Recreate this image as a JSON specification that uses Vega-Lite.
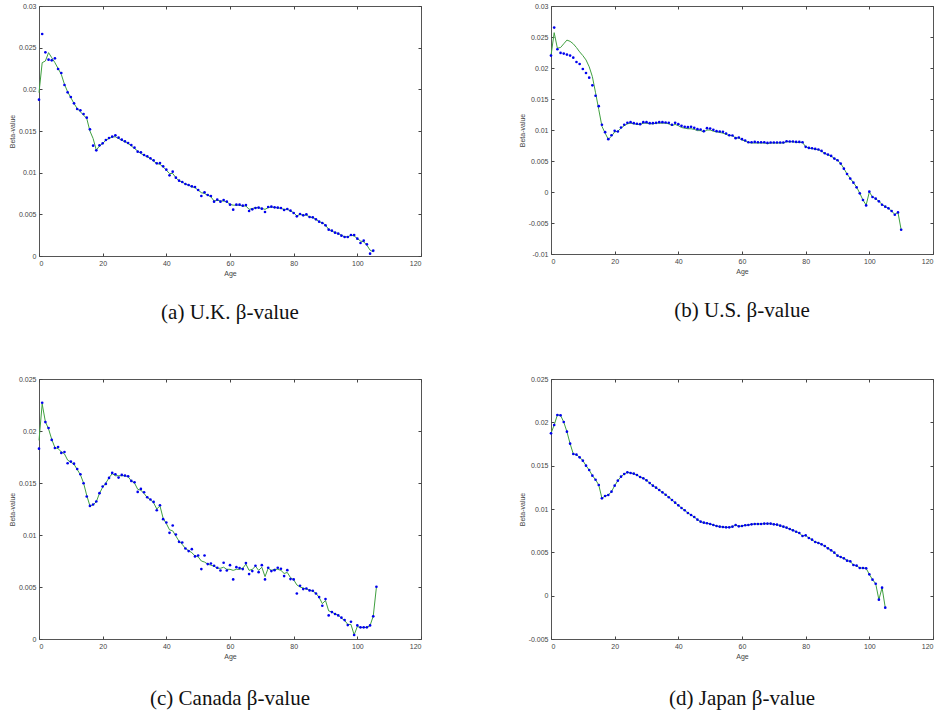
{
  "$schema": "https://vega.github.io/schema/vega-lite/v6.json",
  "padding": {"left": 7, "top": 1, "right": 0, "bottom": 0},
  "background": "white",
  "datasets": {
    "uk": [
      {"age":0,"obs":0.01876,"fit":0.0196},{"age":1,"obs":0.02664,"fit":0.0232},{"age":2,"obs":0.02444,"fit":0.0234},{"age":3,"obs":0.02356,"fit":0.0244},{"age":4,"obs":0.02348,"fit":0.0238},{"age":5,"obs":0.02372,"fit":0.0232},{"age":6,"obs":0.02244,"fit":0.0225},{"age":7,"obs":0.02196,"fit":0.0218},{"age":8,"obs":0.02052,"fit":0.0206},{"age":9,"obs":0.01964,"fit":0.0197},
      {"age":10,"obs":0.01908,"fit":0.019},{"age":11,"obs":0.01832,"fit":0.0183},{"age":12,"obs":0.01764,"fit":0.0177},{"age":13,"obs":0.01748,"fit":0.0173},{"age":14,"obs":0.01704,"fit":0.0169},{"age":15,"obs":0.0166,"fit":0.0165},{"age":16,"obs":0.0152,"fit":0.015},{"age":17,"obs":0.01324,"fit":0.0141},{"age":18,"obs":0.01268,"fit":0.0127},{"age":19,"obs":0.01328,"fit":0.0132},
      {"age":20,"obs":0.01352,"fit":0.0135},{"age":21,"obs":0.01392,"fit":0.0139},{"age":22,"obs":0.01416,"fit":0.0141},{"age":23,"obs":0.01432,"fit":0.0143},{"age":24,"obs":0.01448,"fit":0.0143},{"age":25,"obs":0.0142,"fit":0.0141},{"age":26,"obs":0.01396,"fit":0.0139},{"age":27,"obs":0.01376,"fit":0.0137},{"age":28,"obs":0.01356,"fit":0.0135},{"age":29,"obs":0.01332,"fit":0.0132},
      {"age":30,"obs":0.013,"fit":0.0129},{"age":31,"obs":0.01252,"fit":0.0126},{"age":32,"obs":0.01244,"fit":0.0123},{"age":33,"obs":0.01212,"fit":0.0121},{"age":34,"obs":0.01196,"fit":0.0119},{"age":35,"obs":0.01172,"fit":0.0117},{"age":36,"obs":0.01148,"fit":0.0114},{"age":37,"obs":0.01112,"fit":0.0111},{"age":38,"obs":0.01116,"fit":0.011},{"age":39,"obs":0.01076,"fit":0.0107},
      {"age":40,"obs":0.01036,"fit":0.0103},{"age":41,"obs":0.00968,"fit":0.0099},{"age":42,"obs":0.01012,"fit":0.0099},{"age":43,"obs":0.0094,"fit":0.0094},{"age":44,"obs":0.00904,"fit":0.009},{"age":45,"obs":0.00888,"fit":0.0089},{"age":46,"obs":0.00864,"fit":0.0086},{"age":47,"obs":0.00852,"fit":0.0085},{"age":48,"obs":0.00836,"fit":0.0083},{"age":49,"obs":0.00828,"fit":0.0082},
      {"age":50,"obs":0.00792,"fit":0.0079},{"age":51,"obs":0.0072,"fit":0.0076},{"age":52,"obs":0.00764,"fit":0.0075},{"age":53,"obs":0.00732,"fit":0.0073},{"age":54,"obs":0.0072,"fit":0.0071},{"age":55,"obs":0.00652,"fit":0.0066},{"age":56,"obs":0.00676,"fit":0.0067},{"age":57,"obs":0.00652,"fit":0.0066},{"age":58,"obs":0.00672,"fit":0.0066},{"age":59,"obs":0.00652,"fit":0.0065},
      {"age":60,"obs":0.00616,"fit":0.0062},{"age":61,"obs":0.00556,"fit":0.0061},{"age":62,"obs":0.00616,"fit":0.0061},{"age":63,"obs":0.00616,"fit":0.0061},{"age":64,"obs":0.00604,"fit":0.006},{"age":65,"obs":0.00612,"fit":0.006},{"age":66,"obs":0.0054,"fit":0.0056},{"age":67,"obs":0.0056,"fit":0.0057},{"age":68,"obs":0.00576,"fit":0.0058},{"age":69,"obs":0.0058,"fit":0.0058},
      {"age":70,"obs":0.00568,"fit":0.0057},{"age":71,"obs":0.00528,"fit":0.0056},{"age":72,"obs":0.00588,"fit":0.0058},{"age":73,"obs":0.00592,"fit":0.0059},{"age":74,"obs":0.00584,"fit":0.0058},{"age":75,"obs":0.0058,"fit":0.0058},{"age":76,"obs":0.00576,"fit":0.0057},{"age":77,"obs":0.00552,"fit":0.0056},{"age":78,"obs":0.00564,"fit":0.0056},{"age":79,"obs":0.00544,"fit":0.0054},
      {"age":80,"obs":0.00516,"fit":0.0052},{"age":81,"obs":0.00476,"fit":0.0048},{"age":82,"obs":0.00504,"fit":0.005},{"age":83,"obs":0.00488,"fit":0.0049},{"age":84,"obs":0.005,"fit":0.0049},{"age":85,"obs":0.00468,"fit":0.0047},{"age":86,"obs":0.00464,"fit":0.0046},{"age":87,"obs":0.0044,"fit":0.0044},{"age":88,"obs":0.00412,"fit":0.0041},{"age":89,"obs":0.00396,"fit":0.004},
      {"age":90,"obs":0.00368,"fit":0.0037},{"age":91,"obs":0.00316,"fit":0.0032},{"age":92,"obs":0.00304,"fit":0.003},{"age":93,"obs":0.0028,"fit":0.0028},{"age":94,"obs":0.00268,"fit":0.0027},{"age":95,"obs":0.00244,"fit":0.0025},{"age":96,"obs":0.00228,"fit":0.0023},{"age":97,"obs":0.00228,"fit":0.0023},{"age":98,"obs":0.00252,"fit":0.0025},{"age":99,"obs":0.00252,"fit":0.0024},
      {"age":100,"obs":0.00208,"fit":0.0021},{"age":101,"obs":0.00156,"fit":0.0018},{"age":102,"obs":0.00184,"fit":0.0017},{"age":103,"obs":0.0014,"fit":0.0013},{"age":104,"obs":0.00028,"fit":0.0007},{"age":105,"obs":0.00064,"fit":0.0005}
    ],
    "us": [
      {"age":0,"obs":0.022,"fit":0.022},{"age":1,"obs":0.02652,"fit":0.0257},{"age":2,"obs":0.02302,"fit":0.0232},{"age":3,"obs":0.02243,"fit":0.0233},{"age":4,"obs":0.02232,"fit":0.0239},{"age":5,"obs":0.02216,"fit":0.0245},{"age":6,"obs":0.022,"fit":0.0243},{"age":7,"obs":0.02167,"fit":0.0239},{"age":8,"obs":0.02097,"fit":0.0233},{"age":9,"obs":0.02065,"fit":0.0226},
      {"age":10,"obs":0.01984,"fit":0.022},{"age":11,"obs":0.01919,"fit":0.0213},{"age":12,"obs":0.01844,"fit":0.0202},{"age":13,"obs":0.0172,"fit":0.0186},{"age":14,"obs":0.01553,"fit":0.016},{"age":15,"obs":0.01385,"fit":0.0133},{"age":16,"obs":0.01084,"fit":0.0106},{"age":17,"obs":0.00965,"fit":0.0095},{"age":18,"obs":0.00852,"fit":0.0085},{"age":19,"obs":0.00916,"fit":0.009},
      {"age":20,"obs":0.00986,"fit":0.0097},{"age":21,"obs":0.00976,"fit":0.0098},{"age":22,"obs":0.0104,"fit":0.0103},{"age":23,"obs":0.01084,"fit":0.0107},{"age":24,"obs":0.01116,"fit":0.011},{"age":25,"obs":0.01127,"fit":0.0111},{"age":26,"obs":0.0111,"fit":0.011},{"age":27,"obs":0.011,"fit":0.0109},{"age":28,"obs":0.01094,"fit":0.0109},{"age":29,"obs":0.01127,"fit":0.0111},
      {"age":30,"obs":0.01127,"fit":0.0111},{"age":31,"obs":0.0111,"fit":0.011},{"age":32,"obs":0.0111,"fit":0.011},{"age":33,"obs":0.01116,"fit":0.0111},{"age":34,"obs":0.01127,"fit":0.0111},{"age":35,"obs":0.01127,"fit":0.0111},{"age":36,"obs":0.01121,"fit":0.0111},{"age":37,"obs":0.01116,"fit":0.011},{"age":38,"obs":0.01084,"fit":0.0107},{"age":39,"obs":0.01116,"fit":0.0109},
      {"age":40,"obs":0.01094,"fit":0.0107},{"age":41,"obs":0.01067,"fit":0.0104},{"age":42,"obs":0.01051,"fit":0.0103},{"age":43,"obs":0.01046,"fit":0.0102},{"age":44,"obs":0.01051,"fit":0.0102},{"age":45,"obs":0.01035,"fit":0.0101},{"age":46,"obs":0.01013,"fit":0.0099},{"age":47,"obs":0.01008,"fit":0.0099},{"age":48,"obs":0.00981,"fit":0.0097},{"age":49,"obs":0.0103,"fit":0.01},
      {"age":50,"obs":0.01024,"fit":0.01},{"age":51,"obs":0.01003,"fit":0.0098},{"age":52,"obs":0.00981,"fit":0.0097},{"age":53,"obs":0.00976,"fit":0.0096},{"age":54,"obs":0.0097,"fit":0.0095},{"age":55,"obs":0.00943,"fit":0.0093},{"age":56,"obs":0.00916,"fit":0.0091},{"age":57,"obs":0.00911,"fit":0.0091},{"age":58,"obs":0.00868,"fit":0.0087},{"age":59,"obs":0.00879,"fit":0.0087},
      {"age":60,"obs":0.00852,"fit":0.0084},{"age":61,"obs":0.0083,"fit":0.0082},{"age":62,"obs":0.00803,"fit":0.008},{"age":63,"obs":0.00803,"fit":0.0079},{"age":64,"obs":0.00808,"fit":0.0079},{"age":65,"obs":0.00803,"fit":0.0079},{"age":66,"obs":0.00803,"fit":0.0079},{"age":67,"obs":0.00803,"fit":0.0079},{"age":68,"obs":0.00792,"fit":0.0078},{"age":69,"obs":0.00798,"fit":0.0079},
      {"age":70,"obs":0.00798,"fit":0.0079},{"age":71,"obs":0.00798,"fit":0.0079},{"age":72,"obs":0.00798,"fit":0.0079},{"age":73,"obs":0.00798,"fit":0.0079},{"age":74,"obs":0.00819,"fit":0.0081},{"age":75,"obs":0.00814,"fit":0.0081},{"age":76,"obs":0.00814,"fit":0.0081},{"age":77,"obs":0.00808,"fit":0.008},{"age":78,"obs":0.00808,"fit":0.008},{"age":79,"obs":0.00803,"fit":0.008},
      {"age":80,"obs":0.00728,"fit":0.0073},{"age":81,"obs":0.00711,"fit":0.0071},{"age":82,"obs":0.00706,"fit":0.007},{"age":83,"obs":0.00695,"fit":0.0069},{"age":84,"obs":0.00685,"fit":0.0068},{"age":85,"obs":0.00663,"fit":0.0066},{"age":86,"obs":0.00625,"fit":0.0062},{"age":87,"obs":0.00604,"fit":0.006},{"age":88,"obs":0.00582,"fit":0.0058},{"age":89,"obs":0.00539,"fit":0.0054},
      {"age":90,"obs":0.00512,"fit":0.0051},{"age":91,"obs":0.00458,"fit":0.0046},{"age":92,"obs":0.00377,"fit":0.0038},{"age":93,"obs":0.00291,"fit":0.0029},{"age":94,"obs":0.00216,"fit":0.0022},{"age":95,"obs":0.00151,"fit":0.0015},{"age":96,"obs":0.00075,"fit":0.0008},{"age":97,"obs":-0.00022,"fit":-0.0002},{"age":98,"obs":-0.00129,"fit":-0.0013},{"age":99,"obs":-0.00216,"fit":-0.0021},
      {"age":100,"obs":0.00005,"fit":0.0},{"age":101,"obs":-0.00081,"fit":-0.0008},{"age":102,"obs":-0.00108,"fit":-0.0011},{"age":103,"obs":-0.00151,"fit":-0.0015},{"age":104,"obs":-0.00205,"fit":-0.002},{"age":105,"obs":-0.00237,"fit":-0.0024},{"age":106,"obs":-0.00264,"fit":-0.0026},{"age":107,"obs":-0.00307,"fit":-0.0031},{"age":108,"obs":-0.00367,"fit":-0.0036},{"age":109,"obs":-0.00329,"fit":-0.0033},
      {"age":110,"obs":-0.00609,"fit":-0.0061}
    ],
    "ca": [
      {"age":0,"obs":0.0183,"fit":0.0191},{"age":1,"obs":0.02272,"fit":0.0226},{"age":2,"obs":0.02086,"fit":0.0209},{"age":3,"obs":0.02029,"fit":0.0202},{"age":4,"obs":0.01914,"fit":0.0192},{"age":5,"obs":0.01837,"fit":0.0184},{"age":6,"obs":0.01846,"fit":0.0183},{"age":7,"obs":0.01789,"fit":0.018},{"age":8,"obs":0.01798,"fit":0.0178},{"age":9,"obs":0.0169,"fit":0.0172},
      {"age":10,"obs":0.01706,"fit":0.017},{"age":11,"obs":0.01686,"fit":0.0168},{"age":12,"obs":0.01635,"fit":0.0163},{"age":13,"obs":0.01584,"fit":0.0158},{"age":14,"obs":0.01498,"fit":0.015},{"age":15,"obs":0.0137,"fit":0.0138},{"age":16,"obs":0.0128,"fit":0.0128},{"age":17,"obs":0.01293,"fit":0.0129},{"age":18,"obs":0.01322,"fit":0.0132},{"age":19,"obs":0.01402,"fit":0.014},
      {"age":20,"obs":0.01466,"fit":0.0146},{"age":21,"obs":0.01491,"fit":0.015},{"age":22,"obs":0.01549,"fit":0.0155},{"age":23,"obs":0.01597,"fit":0.0159},{"age":24,"obs":0.01584,"fit":0.0157},{"age":25,"obs":0.01552,"fit":0.0157},{"age":26,"obs":0.01578,"fit":0.0157},{"age":27,"obs":0.01571,"fit":0.0157},{"age":28,"obs":0.01565,"fit":0.0156},{"age":29,"obs":0.0152,"fit":0.0152},
      {"age":30,"obs":0.01507,"fit":0.015},{"age":31,"obs":0.01414,"fit":0.0144},{"age":32,"obs":0.01443,"fit":0.0143},{"age":33,"obs":0.01411,"fit":0.014},{"age":34,"obs":0.01363,"fit":0.0136},{"age":35,"obs":0.01341,"fit":0.0134},{"age":36,"obs":0.01318,"fit":0.0131},{"age":37,"obs":0.01238,"fit":0.0125},{"age":38,"obs":0.01286,"fit":0.0128},{"age":39,"obs":0.01152,"fit":0.0116},
      {"age":40,"obs":0.0112,"fit":0.0111},{"age":41,"obs":0.01021,"fit":0.0105},{"age":42,"obs":0.01091,"fit":0.0104},{"age":43,"obs":0.01005,"fit":0.0099},{"age":44,"obs":0.00934,"fit":0.0094},{"age":45,"obs":0.00928,"fit":0.0091},{"age":46,"obs":0.0087,"fit":0.0087},{"age":47,"obs":0.00845,"fit":0.0085},{"age":48,"obs":0.00864,"fit":0.0083},{"age":49,"obs":0.00794,"fit":0.008},
      {"age":50,"obs":0.00803,"fit":0.0079},{"age":51,"obs":0.00672,"fit":0.0075},{"age":52,"obs":0.00803,"fit":0.0074},{"age":53,"obs":0.0072,"fit":0.0072},{"age":54,"obs":0.00726,"fit":0.0071},{"age":55,"obs":0.00704,"fit":0.007},{"age":56,"obs":0.00685,"fit":0.0068},{"age":57,"obs":0.00659,"fit":0.0068},{"age":58,"obs":0.00733,"fit":0.0069},{"age":59,"obs":0.00659,"fit":0.0067},
      {"age":60,"obs":0.0071,"fit":0.0067},{"age":61,"obs":0.00573,"fit":0.0066},{"age":62,"obs":0.00691,"fit":0.0067},{"age":63,"obs":0.00682,"fit":0.0067},{"age":64,"obs":0.00672,"fit":0.0068},{"age":65,"obs":0.0073,"fit":0.0072},{"age":66,"obs":0.00624,"fit":0.0066},{"age":67,"obs":0.00653,"fit":0.0067},{"age":68,"obs":0.00704,"fit":0.007},{"age":69,"obs":0.00643,"fit":0.0066},
      {"age":70,"obs":0.0071,"fit":0.0069},{"age":71,"obs":0.00573,"fit":0.006},{"age":72,"obs":0.00685,"fit":0.0068},{"age":73,"obs":0.00653,"fit":0.0066},{"age":74,"obs":0.00662,"fit":0.0067},{"age":75,"obs":0.00685,"fit":0.0067},{"age":76,"obs":0.00675,"fit":0.0066},{"age":77,"obs":0.00605,"fit":0.0063},{"age":78,"obs":0.00662,"fit":0.0064},{"age":79,"obs":0.00576,"fit":0.0059},
      {"age":80,"obs":0.00573,"fit":0.0057},{"age":81,"obs":0.00438,"fit":0.0052},{"age":82,"obs":0.00512,"fit":0.005},{"age":83,"obs":0.0048,"fit":0.0049},{"age":84,"obs":0.00486,"fit":0.0048},{"age":85,"obs":0.00467,"fit":0.0047},{"age":86,"obs":0.00464,"fit":0.0046},{"age":87,"obs":0.00438,"fit":0.0044},{"age":88,"obs":0.00403,"fit":0.004},{"age":89,"obs":0.0032,"fit":0.0034},
      {"age":90,"obs":0.00384,"fit":0.0037},{"age":91,"obs":0.00227,"fit":0.0027},{"age":92,"obs":0.00259,"fit":0.0026},{"age":93,"obs":0.0024,"fit":0.0024},{"age":94,"obs":0.00227,"fit":0.0023},{"age":95,"obs":0.00205,"fit":0.002},{"age":96,"obs":0.00182,"fit":0.0018},{"age":97,"obs":0.00134,"fit":0.0014},{"age":98,"obs":0.00166,"fit":0.0014},{"age":99,"obs":0.00038,"fit":0.0004},
      {"age":100,"obs":0.00131,"fit":0.0012},{"age":101,"obs":0.00112,"fit":0.0011},{"age":102,"obs":0.00112,"fit":0.0011},{"age":103,"obs":0.00112,"fit":0.0011},{"age":104,"obs":0.00131,"fit":0.0013},{"age":105,"obs":0.00218,"fit":0.0022},{"age":106,"obs":0.00502,"fit":0.005}
    ],
    "jp": [
      {"age":0,"obs":0.01873,"fit":0.01873},{"age":1,"obs":0.01969,"fit":0.01969},{"age":2,"obs":0.02085,"fit":0.02085},{"age":3,"obs":0.02081,"fit":0.02081},{"age":4,"obs":0.02004,"fit":0.02004},{"age":5,"obs":0.01892,"fit":0.01892},{"age":6,"obs":0.01754,"fit":0.01754},{"age":7,"obs":0.01635,"fit":0.01635},{"age":8,"obs":0.01627,"fit":0.01627},{"age":9,"obs":0.01596,"fit":0.01596},
      {"age":10,"obs":0.01558,"fit":0.01558},{"age":11,"obs":0.015,"fit":0.015},{"age":12,"obs":0.0145,"fit":0.0145},{"age":13,"obs":0.01385,"fit":0.01385},{"age":14,"obs":0.01338,"fit":0.01338},{"age":15,"obs":0.01277,"fit":0.01277},{"age":16,"obs":0.01123,"fit":0.01123},{"age":17,"obs":0.0115,"fit":0.0115},{"age":18,"obs":0.01162,"fit":0.01162},{"age":19,"obs":0.012,"fit":0.012},
      {"age":20,"obs":0.01269,"fit":0.01269},{"age":21,"obs":0.01327,"fit":0.01327},{"age":22,"obs":0.01373,"fit":0.01373},{"age":23,"obs":0.01404,"fit":0.01404},{"age":24,"obs":0.01423,"fit":0.01423},{"age":25,"obs":0.01415,"fit":0.01415},{"age":26,"obs":0.01408,"fit":0.01408},{"age":27,"obs":0.01392,"fit":0.01392},{"age":28,"obs":0.01369,"fit":0.01369},{"age":29,"obs":0.01354,"fit":0.01354},
      {"age":30,"obs":0.01331,"fit":0.01331},{"age":31,"obs":0.013,"fit":0.013},{"age":32,"obs":0.01269,"fit":0.01269},{"age":33,"obs":0.01246,"fit":0.01246},{"age":34,"obs":0.01219,"fit":0.01219},{"age":35,"obs":0.01192,"fit":0.01192},{"age":36,"obs":0.01165,"fit":0.01165},{"age":37,"obs":0.01135,"fit":0.01135},{"age":38,"obs":0.01104,"fit":0.01104},{"age":39,"obs":0.01073,"fit":0.01073},
      {"age":40,"obs":0.01042,"fit":0.01042},{"age":41,"obs":0.01012,"fit":0.01012},{"age":42,"obs":0.00985,"fit":0.00985},{"age":43,"obs":0.00954,"fit":0.00954},{"age":44,"obs":0.00931,"fit":0.00931},{"age":45,"obs":0.00908,"fit":0.00908},{"age":46,"obs":0.00877,"fit":0.00877},{"age":47,"obs":0.00854,"fit":0.00854},{"age":48,"obs":0.00842,"fit":0.00842},{"age":49,"obs":0.00835,"fit":0.00835},
      {"age":50,"obs":0.00827,"fit":0.00827},{"age":51,"obs":0.00815,"fit":0.00815},{"age":52,"obs":0.00804,"fit":0.00804},{"age":53,"obs":0.00796,"fit":0.00796},{"age":54,"obs":0.00792,"fit":0.00792},{"age":55,"obs":0.00788,"fit":0.00788},{"age":56,"obs":0.00788,"fit":0.00788},{"age":57,"obs":0.00796,"fit":0.00796},{"age":58,"obs":0.00815,"fit":0.00815},{"age":59,"obs":0.008,"fit":0.008},
      {"age":60,"obs":0.00804,"fit":0.00804},{"age":61,"obs":0.00812,"fit":0.00812},{"age":62,"obs":0.00815,"fit":0.00815},{"age":63,"obs":0.00823,"fit":0.00823},{"age":64,"obs":0.00827,"fit":0.00827},{"age":65,"obs":0.00827,"fit":0.00827},{"age":66,"obs":0.00827,"fit":0.00827},{"age":67,"obs":0.00831,"fit":0.00831},{"age":68,"obs":0.00831,"fit":0.00831},{"age":69,"obs":0.00831,"fit":0.00831},
      {"age":70,"obs":0.00823,"fit":0.00823},{"age":71,"obs":0.00819,"fit":0.00819},{"age":72,"obs":0.00808,"fit":0.00808},{"age":73,"obs":0.00796,"fit":0.00796},{"age":74,"obs":0.00785,"fit":0.00785},{"age":75,"obs":0.00769,"fit":0.00769},{"age":76,"obs":0.00754,"fit":0.00754},{"age":77,"obs":0.00738,"fit":0.00738},{"age":78,"obs":0.00723,"fit":0.00723},{"age":79,"obs":0.00688,"fit":0.00688},
      {"age":80,"obs":0.00696,"fit":0.00696},{"age":81,"obs":0.00665,"fit":0.00665},{"age":82,"obs":0.00646,"fit":0.00646},{"age":83,"obs":0.00619,"fit":0.00619},{"age":84,"obs":0.00608,"fit":0.00608},{"age":85,"obs":0.00592,"fit":0.00592},{"age":86,"obs":0.00573,"fit":0.00573},{"age":87,"obs":0.00546,"fit":0.00546},{"age":88,"obs":0.00523,"fit":0.00523},{"age":89,"obs":0.00496,"fit":0.00496},
      {"age":90,"obs":0.00462,"fit":0.00462},{"age":91,"obs":0.00446,"fit":0.00446},{"age":92,"obs":0.00431,"fit":0.00431},{"age":93,"obs":0.00404,"fit":0.00404},{"age":94,"obs":0.00396,"fit":0.00396},{"age":95,"obs":0.00354,"fit":0.00354},{"age":96,"obs":0.00346,"fit":0.00346},{"age":97,"obs":0.00319,"fit":0.00319},{"age":98,"obs":0.00319,"fit":0.00319},{"age":99,"obs":0.00315,"fit":0.00315},
      {"age":100,"obs":0.00246,"fit":0.00246},{"age":101,"obs":0.00185,"fit":0.00185},{"age":102,"obs":0.00138,"fit":0.00138},{"age":103,"obs":-0.00046,"fit":-0.00046},{"age":104,"obs":0.00092,"fit":0.00092},{"age":105,"obs":-0.00138,"fit":-0.00138}
    ]
  },
  "vconcat": [
    {
      "hconcat": [
        {
          "width": 382, "height": 250,
          "title": {"text": "(a) U.K. β-value"},
          "data": {"name": "uk"},
          "layer": [
            {"mark": {"type": "line", "color": "#3f9f3f", "strokeWidth": 1},
             "encoding": {
               "x": {"field": "age", "type": "quantitative", "scale": {"domain": [0, 120], "nice": false}, "axis": {"orient": "bottom", "values": [0,20,40,60,80,100,120], "title": "Age", "labelExpr": "datum.value + ''"}},
               "y": {"field": "fit", "type": "quantitative", "scale": {"domain": [0, 0.03], "nice": false, "zero": false}, "axis": {"orient": "left", "values": [0,0.005,0.01,0.015,0.02,0.025,0.03], "title": "Beta-value", "labelExpr": "datum.value + ''"}}
             }},
            {"mark": {"type": "point", "filled": true, "shape": "circle", "size": 7, "color": "#0000ee", "opacity": 1},
             "encoding": {
               "x": {"field": "age", "type": "quantitative", "axis": {"orient": "top", "values": [0,20,40,60,80,100,120], "labels": false, "title": null}},
               "y": {"field": "obs", "type": "quantitative", "axis": {"orient": "right", "values": [0,0.005,0.01,0.015,0.02,0.025,0.03], "labels": false, "title": null}}
             }}
          ],
          "resolve": {"axis": {"x": "independent", "y": "independent"}}
        },
        {
          "width": 382, "height": 248,
          "title": {"text": "(b) U.S. β-value"},
          "data": {"name": "us"},
          "layer": [
            {"mark": {"type": "line", "color": "#3f9f3f", "strokeWidth": 1},
             "encoding": {
               "x": {"field": "age", "type": "quantitative", "scale": {"domain": [0, 120], "nice": false}, "axis": {"orient": "bottom", "values": [0,20,40,60,80,100,120], "title": "Age", "labelExpr": "datum.value + ''"}},
               "y": {"field": "fit", "type": "quantitative", "scale": {"domain": [-0.01, 0.03], "nice": false, "zero": false}, "axis": {"orient": "left", "values": [-0.01,-0.005,0,0.005,0.01,0.015,0.02,0.025,0.03], "title": "Beta-value", "labelExpr": "datum.value + ''"}}
             }},
            {"mark": {"type": "point", "filled": true, "shape": "circle", "size": 7, "color": "#0000ee", "opacity": 1},
             "encoding": {
               "x": {"field": "age", "type": "quantitative", "axis": {"orient": "top", "values": [0,20,40,60,80,100,120], "labels": false, "title": null}},
               "y": {"field": "obs", "type": "quantitative", "axis": {"orient": "right", "values": [-0.01,-0.005,0,0.005,0.01,0.015,0.02,0.025,0.03], "labels": false, "title": null}}
             }}
          ],
          "resolve": {"axis": {"x": "independent", "y": "independent"}}
        }
      ],
      "spacing": 95
    },
    {
      "hconcat": [
        {
          "width": 382, "height": 260,
          "title": {"text": "(c) Canada β-value", "offset": 29},
          "data": {"name": "ca"},
          "layer": [
            {"mark": {"type": "line", "color": "#3f9f3f", "strokeWidth": 1},
             "encoding": {
               "x": {"field": "age", "type": "quantitative", "scale": {"domain": [0, 120], "nice": false}, "axis": {"orient": "bottom", "values": [0,20,40,60,80,100,120], "title": "Age", "labelExpr": "datum.value + ''"}},
               "y": {"field": "fit", "type": "quantitative", "scale": {"domain": [0, 0.025], "nice": false, "zero": false}, "axis": {"orient": "left", "values": [0,0.005,0.01,0.015,0.02,0.025], "title": "Beta-value", "labelExpr": "datum.value + ''"}}
             }},
            {"mark": {"type": "point", "filled": true, "shape": "circle", "size": 7, "color": "#0000ee", "opacity": 1},
             "encoding": {
               "x": {"field": "age", "type": "quantitative", "axis": {"orient": "top", "values": [0,20,40,60,80,100,120], "labels": false, "title": null}},
               "y": {"field": "obs", "type": "quantitative", "axis": {"orient": "right", "values": [0,0.005,0.01,0.015,0.02,0.025], "labels": false, "title": null}}
             }}
          ],
          "resolve": {"axis": {"x": "independent", "y": "independent"}}
        },
        {
          "width": 382, "height": 260,
          "title": {"text": "(d) Japan β-value", "offset": 29},
          "data": {"name": "jp"},
          "layer": [
            {"mark": {"type": "line", "color": "#3f9f3f", "strokeWidth": 1},
             "encoding": {
               "x": {"field": "age", "type": "quantitative", "scale": {"domain": [0, 120], "nice": false}, "axis": {"orient": "bottom", "values": [0,20,40,60,80,100,120], "title": "Age", "labelExpr": "datum.value + ''"}},
               "y": {"field": "fit", "type": "quantitative", "scale": {"domain": [-0.005, 0.025], "nice": false, "zero": false}, "axis": {"orient": "left", "values": [-0.005,0,0.005,0.01,0.015,0.02,0.025], "title": "Beta-value", "labelExpr": "datum.value + ''"}}
             }},
            {"mark": {"type": "point", "filled": true, "shape": "circle", "size": 7, "color": "#0000ee", "opacity": 1},
             "encoding": {
               "x": {"field": "age", "type": "quantitative", "axis": {"orient": "top", "values": [0,20,40,60,80,100,120], "labels": false, "title": null}},
               "y": {"field": "obs", "type": "quantitative", "axis": {"orient": "right", "values": [-0.005,0,0.005,0.01,0.015,0.02,0.025], "labels": false, "title": null}}
             }}
          ],
          "resolve": {"axis": {"x": "independent", "y": "independent"}}
        }
      ],
      "spacing": 95
    }
  ],
  "spacing": 50,
  "config": {
    "view": {"stroke": "#555555", "strokeWidth": 1},
    "axis": {"grid": false, "domain": false, "tickSize": -3, "tickColor": "#444444", "labelPadding": 6, "labelFont": "Liberation Sans", "labelFontSize": 7, "labelColor": "#444444", "titleFont": "Liberation Sans", "titleFontSize": 7, "titleFontWeight": "normal", "titleColor": "#444444", "titlePadding": 3},
    "title": {"font": "Liberation Serif", "fontSize": 21, "fontWeight": "normal", "color": "#111111", "orient": "bottom", "offset": 26, "anchor": "middle"}
  }
}
